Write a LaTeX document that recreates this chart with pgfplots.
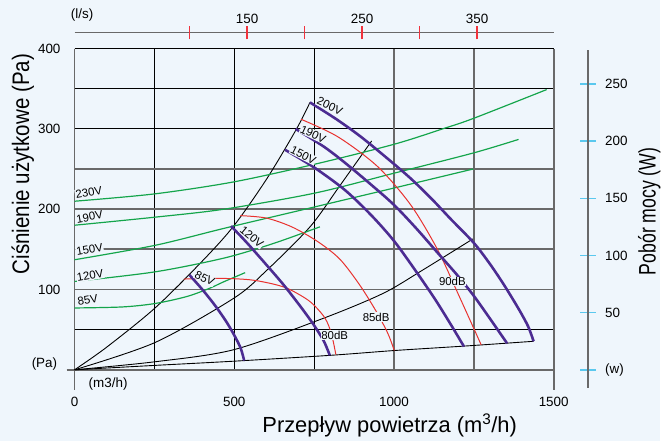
\documentclass[border=0pt]{standalone}
\usepackage{pgfplots}
\pgfplotsset{compat=1.18}
\usepackage{graphicx}
\usepackage{fontspec}
\setmainfont{Liberation Sans}
\definecolor{bg}{RGB}{239,246,252}
\definecolor{fan}{RGB}{76,44,146}
\definecolor{db}{RGB}{232,50,47}
\definecolor{pw}{RGB}{20,165,75}
\definecolor{gridgray}{RGB}{105,105,105}
\definecolor{tickcyan}{RGB}{90,200,238}
\definecolor{tickred}{RGB}{240,50,60}
\pgfplotsset{
  common/.style={at={(0pt,0pt)}, anchor=south west, scale only axis,
    width=482pt, height=323.1pt, xmin=0, xmax=1500, clip=false},
}
\tikzset{lbl/.style={font=\fontsize{11.5}{13}\selectfont, fill=bg, inner sep=0.6pt}}
\begin{document}
\begin{tikzpicture}[font=\fontsize{13.5}{16}\selectfont]
\fill[bg] (-75pt,-72pt) rectangle (589pt,372pt);
% ---------- main axis: grid, ticks, system curves
\begin{axis}[common, ymin=0, ymax=400,
  /pgf/number format/assume math mode=true,
  axis line style={draw=none}, tick style={draw=none},
  tick label style={font=\fontsize{13.5}{16}\selectfont},
  xtick={0,250,500,750}, xticklabels={0,,500,},
  extra x ticks={1000,1250,1500}, extra x tick labels={1000,,1500},
  ytick={50,300,350,400}, yticklabels={,300,,400},
  extra y ticks={0,100,150,200,250}, extra y tick labels={,100,,200,},
  grid=major, major grid style={black, line width=1pt},
  extra tick style={grid=major, major grid style={gridgray, line width=1.8pt}},
  xticklabel style={anchor=center, yshift=-32pt},
  yticklabel style={anchor=east, inner sep=0pt, xshift=-14pt},
]
\draw[gridgray, line width=1.6pt] (axis cs:0,-25) -- (axis cs:0,400);
\draw[gridgray, line width=1.6pt] (axis cs:-25,0) -- (axis cs:1500,0);
\draw[gridgray, line width=1.6pt] (axis cs:1500,-25) -- (axis cs:1500,400);
\draw[black, line width=1.1pt] (axis cs:0,400) -- (axis cs:1500,400);
\addplot[black, line width=0.9pt, smooth, tension=0.5] coordinates {(0,0) (100,28) (252,77) (399,135) (498,179) (602,238) (695,300) (737,333)};
\addplot[black, line width=0.9pt, smooth, tension=0.5] coordinates {(0,0) (252,34) (498,89) (602,124) (737,178) (830,229) (930,285)};
\addplot[black, line width=0.9pt, smooth, tension=0.5] coordinates {(0,0) (252,10) (498,25) (778,64) (965,95) (1089,124) (1247,163)};
\addplot[black, line width=0.9pt, smooth, tension=0.5] coordinates {(0,0) (252,5.5) (498,10.7) (800,18) (1001,24) (1219,29.5) (1437,35.5)};
\node[anchor=east, xshift=-14pt, yshift=6pt] at (axis cs:0,0) {(Pa)};
\node at (axis cs:105,-18) {(m3/h)};
\end{axis}
% ---------- power overlay (W)
\begin{axis}[common, ymin=0, ymax=281.05, hide axis]
\addplot[pw, line width=1.2pt, smooth, tension=0.5] coordinates {(0,147.5) (250,153.9) (498,164.4) (752,179.9) (1001,197.4) (1152,210.8) (1248,219.9) (1478,245.2)};
\addplot[pw, line width=1.2pt, smooth, tension=0.5] coordinates {(0,126.5) (250,133.5) (467,140.5) (752,154.6) (1001,172.1) (1248,189.7) (1390,201.6)};
\addplot[pw, line width=1.2pt, smooth, tension=0.5] coordinates {(0,96.3) (252,108.9) (467,123.7) (700,139.1) (965,156.7) (1248,175.7)};
\addplot[pw, line width=1.2pt, smooth, tension=0.5] coordinates {(0,77.3) (252,85.7) (467,97.7) (620,110.3) (768,125.1)};
\addplot[pw, line width=1.2pt, smooth, tension=0.5] coordinates {(0,54.1) (150,55) (252,58) (350,64) (420,71) (467,77) (534,85)};
\end{axis}
% ---------- fan and noise curves (Pa)
\begin{axis}[common, ymin=0, ymax=400, hide axis]
\addplot[db, line width=1pt, smooth, tension=0.5] coordinates {(342,113) (436,114) (520,113) (570,111) (630,106) (674,100) (737,85) (783,65) (804,45) (818,19)};
\addplot[db, line width=1pt, smooth, tension=0.5] coordinates {(519,192) (600,189) (680,178) (760,160) (830,138) (892,106) (944,73) (980,46) (1001,24)};
\addplot[db, line width=1pt, smooth, tension=0.5] coordinates {(709,312) (825,290) (949,253) (1053,205) (1136,150) (1198,97) (1273,31)};
\addplot[fan, line width=2.6pt, smooth, tension=0.5] coordinates {(360,118) (400,100) (440,80) (475,60) (500,43) (520,27) (531,11.5)};
\addplot[fan, line width=2.6pt, smooth, tension=0.5] coordinates {(490,179) (540,158) (600,131) (654,106) (705,80) (747,57) (780,36) (799,18)};
\addplot[fan, line width=2.6pt, smooth, tension=0.5] coordinates {(659,274) (750,252) (846,224) (930,192) (1001,160) (1070,122) (1130,87) (1180,55) (1219,29)};
\addplot[fan, line width=2.6pt, smooth, tension=0.5] coordinates {(692,300) (780,278) (846,258) (930,230) (1001,205) (1070,176) (1136,146) (1200,117) (1250,92) (1300,64) (1354,33)};
\addplot[fan, line width=2.6pt, smooth, tension=0.5] coordinates {(737,333) (820,312) (897,290) (980,263) (1053,238) (1120,212) (1177,188) (1250,158) (1300,132) (1344,106) (1390,76) (1420,54) (1437,35.5)};
\node[lbl, rotate=10] at (axis cs:44.5,221.2) {230V};
\node[lbl, rotate=10] at (axis cs:46.7,190.3) {190V};
\node[lbl, rotate=10] at (axis cs:46.7,150.2) {150V};
\node[lbl, rotate=10] at (axis cs:48.9,117.2) {120V};
\node[lbl, rotate=10] at (axis cs:41.4,87) {85V};
\node[lbl, rotate=-25] at (axis cs:799,328.5) {200V};
\node[lbl, rotate=-25] at (axis cs:747,293.4) {190V};
\node[lbl, rotate=-27] at (axis cs:716,267.4) {150V};
\node[lbl, rotate=-40] at (axis cs:555,165.5) {120V};
\node[lbl, rotate=-27] at (axis cs:407.7,113.9) {85V};
\node[lbl] at (axis cs:814.5,43) {80dB};
\node[lbl] at (axis cs:944,65.6) {85dB};
\node[lbl] at (axis cs:1182.7,109.8) {90dB};
\end{axis}
% ---------- top l/s scale
\begin{axis}[at={(0pt,339.3pt)}, anchor=north west, scale only axis,
  width=482pt, height=5pt, xmin=0, xmax=416.667, ymin=0, ymax=1,
  axis x line*=top, axis y line=none,
  axis line style={gridgray, line width=1.5pt},
  xtick={100,150,200,250,300,350}, xticklabels={,150,,250,,350},
  major tick length=0pt, tick style={draw=none},
  tick label style={font=\fontsize{13.5}{16}\selectfont},
  xticklabel style={anchor=center, yshift=14pt}, clip=false]
\foreach \t in {100,150,200,250,300,350}{
  \edef\temp{\noexpand\draw[tickred, line width=1.4pt] ([yshift=-7pt]axis cs:\t,1) -- ([yshift=7pt]axis cs:\t,1);}
  \temp
}
\end{axis}
% ---------- right W scale
\begin{axis}[at={(516.5pt,0pt)}, anchor=south west, scale only axis,
  width=5pt, height=323.1pt, xmin=0, xmax=1, ymin=0, ymax=281.05,
  axis x line=none, axis y line*=left, axis line style={draw=none},
  ytick={0,50,100,150,200,250}, yticklabels={(w),50,100,150,200,250},
  tick align=center, major tick length=16pt,
  tick style={tickcyan, line width=1.5pt},
  tick label style={font=\fontsize{13.5}{16}\selectfont},
  yticklabel style={anchor=west, inner sep=0pt, xshift=25pt}, clip=false]
\draw[gridgray, line width=1.4pt] (rel axis cs:0,-0.0557) -- (rel axis cs:0,0.9966);
\end{axis}
\node at (7.6pt,357pt) {(l/s)};
\node at (317pt,-56pt) {\fontsize{22}{26}\selectfont Przepływ powietrza (m\textsuperscript{3}/h)};
\node[rotate=90] at (-52pt,207pt) {\fontsize{24}{28}\selectfont\scalebox{0.86}[1]{Ciśnienie użytkowe (Pa)}};
\node[rotate=90] at (578.3pt,159.3pt) {\fontsize{24}{28}\selectfont\scalebox{0.74}[1]{Pobór mocy (W)}};
\end{tikzpicture}
\end{document}
